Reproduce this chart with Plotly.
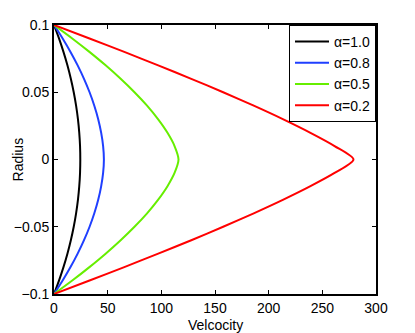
import plotly.graph_objects as go

radius = [-0.10, -0.09, -0.08, -0.07, -0.06, -0.05, -0.04, -0.03, -0.02, -0.01, 0.00,
          0.01, 0.02, 0.03, 0.04, 0.05, 0.06, 0.07, 0.08, 0.09, 0.10]

vel_a10 = [0, 4.66, 8.82, 12.50, 15.68, 18.38, 20.58, 22.30, 23.52, 24.26, 24.5,
           24.26, 23.52, 22.30, 20.58, 18.38, 15.68, 12.50, 8.82, 4.66, 0]
vel_a08 = [0, 8.04, 15.38, 22.03, 27.96, 33.15, 37.56, 41.18, 43.93, 45.76, 46.5,
           45.76, 43.93, 41.18, 37.56, 33.15, 27.96, 22.03, 15.38, 8.04, 0]
vel_a05 = [0, 17.0, 33.0, 48.1, 62.1, 75.0, 86.7, 96.9, 105.6, 112.3, 116.0,
           112.3, 105.6, 96.9, 86.7, 75.0, 62.1, 48.1, 33.0, 17.0, 0]
vel_a02 = [0, 33.1, 65.5, 97.1, 127.9, 157.6, 186.1, 213.2, 238.5, 261.4, 279.0,
           261.4, 238.5, 213.2, 186.1, 157.6, 127.9, 97.1, 65.5, 33.1, 0]

labels = ["α=1.0", "α=0.8", "α=0.5", "α=0.2"]
colors = ["#000000", "#1f3fff", "#66ee00", "#ff0000"]
series = [vel_a10, vel_a08, vel_a05, vel_a02]

x_ticks = [0, 50, 100, 150, 200, 250, 300]
y_ticks = [-0.1, -0.05, 0, 0.05, 0.1]
y_ticktext = ["\u22120.1", "\u22120.05", "0", "0.05", "0.1"]

FONT = "Liberation Sans, Arial, sans-serif"

fig = go.Figure()
for vals, lab, col in zip(series, labels, colors):
    fig.add_trace(go.Scatter(
        x=vals, y=radius, mode="lines", name=lab,
        line=dict(color=col, width=2, shape="spline", smoothing=0.8),
    ))

axis_common = dict(
    showline=True, linecolor="black", linewidth=2, mirror="ticks",
    ticks="inside", ticklen=4, tickwidth=1, tickcolor="black",
    showgrid=False, zeroline=False, automargin=False,
    tickfont=dict(family=FONT, size=14, color="black"),
)

# page body has an 8px margin, so the figure is sized to fit inside the window
fig.update_layout(
    width=407, height=325,
    margin=dict(l=46, r=39, t=17, b=39),
    paper_bgcolor="white", plot_bgcolor="white",
    font=dict(family=FONT, size=14, color="black"),
    xaxis=dict(range=[0, 300], tickvals=x_ticks, **axis_common),
    yaxis=dict(range=[-0.1, 0.1], tickvals=y_ticks, ticktext=y_ticktext, **axis_common),
    legend=dict(x=1, xanchor="right", y=1, yanchor="top",
                bgcolor="white", bordercolor="black", borderwidth=1,
                font=dict(family=FONT, size=14), itemwidth=34, tracegroupgap=0),
    showlegend=True,
    annotations=[
        dict(text="Velcocity", xref="paper", yref="paper", x=0.5, y=-0.115,
             xanchor="center", yanchor="middle", showarrow=False,
             font=dict(family=FONT, size=14)),
        dict(text="Radius", xref="paper", yref="paper", x=-0.112, y=0.5,
             xanchor="center", yanchor="middle", textangle=-90, showarrow=False,
             font=dict(family=FONT, size=14)),
    ],
)

fig.write_html("out.html")
